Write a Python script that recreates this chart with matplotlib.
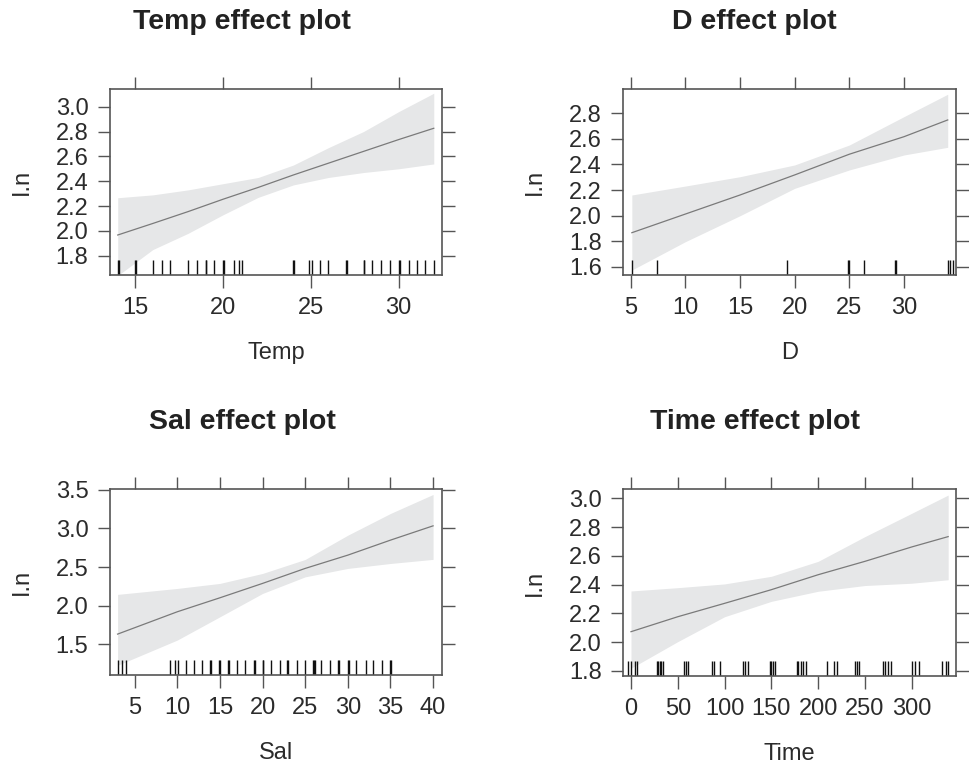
import matplotlib
matplotlib.use('Agg')

import matplotlib.pyplot as plt
import numpy as np

plt.rcParams['font.family'] = ['Liberation Sans', 'DejaVu Sans']

# ---------------------------
# DADOS
# ---------------------------
temp_x = [14, 16, 18, 20, 22, 24, 26, 28, 30, 32]
temp_fit = [1.967, 2.06, 2.155, 2.255, 2.35, 2.45, 2.545, 2.64, 2.735, 2.826]
temp_lo = [1.64, 1.85, 1.98, 2.13, 2.27, 2.37, 2.43, 2.47, 2.50, 2.539]
temp_hi = [2.267, 2.29, 2.33, 2.38, 2.43, 2.53, 2.67, 2.80, 2.96, 3.108]
temp_rug = [14, 14.05, 15, 15.05, 16, 16.5, 17, 18, 18.5, 19, 19.05, 19.5,
            20, 20.05, 20.6, 20.9, 21.1, 24, 24.05, 24.9, 25.05, 25.5, 26,
            27, 27.05, 28, 28.05, 28.5, 29, 29.5, 30, 30.05, 30.6, 31.05,
            31.5, 32]

d_x = [5.1, 10, 15, 20, 25, 30, 34.0]
d_fit = [1.866, 2.012, 2.161, 2.318, 2.48, 2.617, 2.748]
d_lo = [1.574, 1.796, 1.999, 2.213, 2.357, 2.474, 2.534]
d_hi = [2.161, 2.231, 2.304, 2.396, 2.552, 2.774, 2.949]
d_rug = [5.1, 7.4, 19.3, 24.85, 24.95, 26.3, 29.15, 29.25, 34.0, 34.2, 34.45]

sal_x = [3, 10, 15, 20, 25, 30, 35, 40]
sal_fit = [1.633, 1.922, 2.103, 2.289, 2.483, 2.655, 2.849, 3.034]
sal_lo = [1.23, 1.556, 1.857, 2.159, 2.374, 2.483, 2.547, 2.60]
sal_hi = [2.147, 2.224, 2.289, 2.418, 2.599, 2.913, 3.194, 3.44]
sal_rug = [3.1, 3.5, 4.0, 9.1, 9.7, 10.1, 11, 12, 12.85, 13.8, 14.0, 14.9,
           15.05, 16, 16.1, 17, 17.9, 19, 19.1, 20, 20.1, 21, 22, 22.9, 23.0,
           24, 25, 25.9, 26.0, 26.1, 26.9, 27.9, 28.9, 29.0, 30, 30.1, 31,
           32.1, 33, 34.05, 35.0, 35.1]

time_x = [0, 50, 100, 150, 200, 250, 300, 339]
time_fit = [2.073, 2.177, 2.27, 2.365, 2.469, 2.562, 2.662, 2.734]
time_lo = [1.819, 2.004, 2.177, 2.284, 2.354, 2.394, 2.41, 2.434]
time_hi = [2.356, 2.379, 2.405, 2.458, 2.562, 2.734, 2.896, 3.023]
time_rug = [-2.9, -0.4, 4.3, 6.1, 27.4, 29.2, 31.0, 32.0, 33.8, 56.6, 58.8,
            61.3, 86.2, 88.7, 95.1, 119.4, 121.8, 125.4, 148.6, 150.0, 151.4,
            153.9, 177.1, 178.8, 181.4, 184.2, 187.0, 209.2, 217.0, 219.8,
            239.4, 241.2, 244.0, 269.7, 271.5, 275.0, 277.6, 300.0, 303.5,
            308.2, 332.1, 336.7, 339.1]

# ---------------------------
# PAINEIS
# ---------------------------
panels = [
    dict(name='Temp', x=temp_x, fit=temp_fit, lo=temp_lo, hi=temp_hi, rug=temp_rug,
         xticks=[15, 20, 25, 30], xlim=(13.56, 32.47),
         yticks=[1.8, 2.0, 2.2, 2.4, 2.6, 2.8, 3.0], ylim=(1.645, 3.142),
         rect=[0.1134, 0.6419, 0.3423, 0.2422], tx=0.2495),
    dict(name='D', x=d_x, fit=d_fit, lo=d_lo, hi=d_hi, rug=d_rug,
         xticks=[5, 10, 15, 20, 25, 30], xlim=(4.32, 34.76),
         yticks=[1.6, 1.8, 2.0, 2.2, 2.4, 2.6, 2.8], ylim=(1.535, 2.99),
         rect=[0.6426, 0.6419, 0.3430, 0.2422], tx=0.778),
    dict(name='Sal', x=sal_x, fit=sal_fit, lo=sal_lo, hi=sal_hi, rug=sal_rug,
         xticks=[5, 10, 15, 20, 25, 30, 35, 40], xlim=(2.11, 41.05),
         yticks=[1.5, 2.0, 2.5, 3.0, 3.5], ylim=(1.10, 3.507),
         rect=[0.1134, 0.1207, 0.3423, 0.2422], tx=0.2495),
    dict(name='Time', x=time_x, fit=time_fit, lo=time_lo, hi=time_hi, rug=time_rug,
         xticks=[0, 50, 100, 150, 200, 250, 300], xlim=(-8.2, 347.4),
         yticks=[1.8, 2.0, 2.2, 2.4, 2.6, 2.8, 3.0], ylim=(1.765, 3.063),
         rect=[0.6426, 0.1198, 0.3430, 0.2431], tx=0.778),
]

fig = plt.figure(figsize=(9.7, 7.68), dpi=100)

for p in panels:
    ax = fig.add_axes(p['rect'])

    ax.fill_between(p['x'], p['lo'], p['hi'], color='#e6e7e8', lw=0)
    ax.plot(p['x'], p['fit'], color='#7a7a7a', lw=0.9)

    # rug
    ax.vlines(p['rug'], 0, 0.08, transform=ax.get_xaxis_transform(),
              colors='#111111', lw=1.0)

    ax.set_xlim(*p['xlim'])
    ax.set_ylim(*p['ylim'])
    ax.set_xticks(p['xticks'])
    ax.set_yticks(p['yticks'])
    ax.set_yticklabels([f"{v:.1f}" for v in p['yticks']])

    ax.tick_params(top=True, right=True, labeltop=False, labelright=False,
                   direction='out', length=9, width=1.0, color='#555555',
                   pad=6.5, labelsize=17, labelcolor='#2b2b2b')
    for s in ax.spines.values():
        s.set_color('#555555')
        s.set_linewidth(1.2)

    ax.set_xlabel(p['name'], fontsize=17, color='#2b2b2b', va='center')
    ax.xaxis.set_label_coords(0.5, -0.42)
    ax.set_ylabel('I.n', fontsize=17, color='#2b2b2b', va='center')
    ax.yaxis.set_label_coords(-0.265, 0.5)

    fig.text(p['tx'], p['rect'][1] + p['rect'][3] + 0.087,
             f"{p['name']} effect plot", ha='center', va='center',
             fontsize=20.5, fontweight='bold', color='#222222')

fig.savefig('out.png', dpi=100)
